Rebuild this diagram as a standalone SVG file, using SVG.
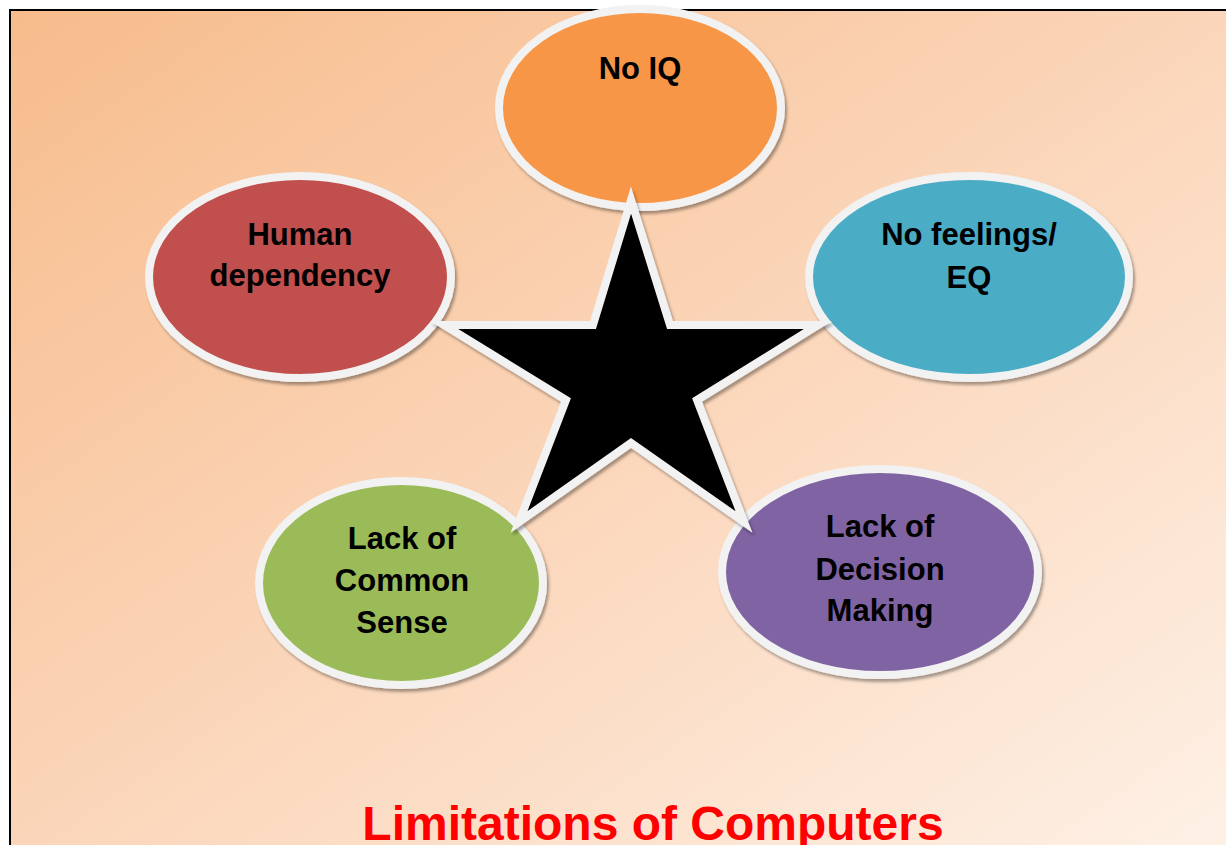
<svg xmlns="http://www.w3.org/2000/svg" width="1226" height="845" viewBox="0 0 1226 845">
  <defs>
    <linearGradient id="bg" x1="0" y1="0" x2="1" y2="1">
      <stop offset="0" stop-color="#F7BC8C"/>
      <stop offset="0.5" stop-color="#FBD6BA"/>
      <stop offset="1" stop-color="#FEF2E8"/>
    </linearGradient>
    <filter id="sh" x="-10%" y="-10%" width="125%" height="125%">
      <feDropShadow dx="2" dy="3" stdDeviation="1.5" flood-color="#000" flood-opacity="0.35"/>
    </filter>
  </defs>
  <style>
    .bubble { stroke: #F2F2F2; stroke-width: 8; filter: url(#sh); }
    .lbl { font-family: "Liberation Sans", Arial, sans-serif; font-weight: bold; font-size: 31px; fill: #000; text-anchor: middle; }
    .title { font-family: "Liberation Sans", Arial, sans-serif; font-weight: bold; font-size: 48px; fill: #FF0000; text-anchor: middle; }
  </style>
  <rect x="0" y="0" width="1226" height="845" fill="#FFFFFF"/>
  <rect x="10" y="10" width="1240" height="860" fill="url(#bg)" stroke="#000" stroke-width="2"/>

  <g id="node-no-iq">
    <ellipse class="bubble" cx="640" cy="108" rx="141" ry="99" fill="#F79646"/>
    <text class="lbl" x="640" y="79">No IQ</text>
  </g>
  <g id="node-human-dependency">
    <ellipse class="bubble" cx="300" cy="277" rx="151" ry="101" fill="#C0504D"/>
    <text class="lbl" x="300" y="245">Human</text>
    <text class="lbl" x="300" y="286">dependency</text>
  </g>
  <g id="node-no-feelings">
    <ellipse class="bubble" cx="969" cy="277" rx="160" ry="101" fill="#4BACC6"/>
    <text class="lbl" x="969" y="245">No feelings/</text>
    <text class="lbl" x="969" y="288">EQ</text>
  </g>
  <g id="node-common-sense">
    <ellipse class="bubble" cx="401" cy="583" rx="142" ry="102" fill="#9BBB59"/>
    <text class="lbl" x="402" y="549">Lack of</text>
    <text class="lbl" x="402" y="591">Common</text>
    <text class="lbl" x="402" y="633">Sense</text>
  </g>
  <g id="node-decision-making">
    <ellipse class="bubble" cx="880" cy="572" rx="158" ry="103" fill="#8064A2"/>
    <text class="lbl" x="880" y="537">Lack of</text>
    <text class="lbl" x="880" y="580">Decision</text>
    <text class="lbl" x="880" y="621">Making</text>
  </g>

  <g id="star">
    <polygon points="631,200 670,325 818,325 697,400 744,522 631,443 519,522 566,400 444,325 593,325" fill="#000" stroke="#F2F2F2" stroke-width="8" stroke-linejoin="miter" stroke-miterlimit="10" filter="url(#sh)"/>
  </g>

  <g id="connectors"/>

  <text class="title" x="653" y="840">Limitations of Computers</text>
</svg>
